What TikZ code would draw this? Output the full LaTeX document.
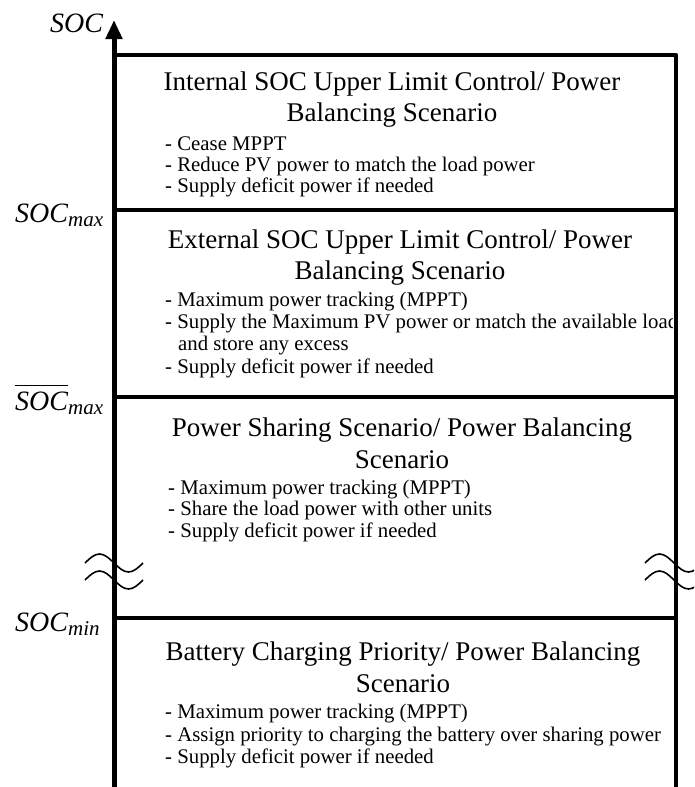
\documentclass[tikz,border=0pt]{standalone}
\usepackage{fontspec}
\setmainfont{Liberation Serif}
\usetikzlibrary{arrows.meta}
\begin{document}
\begin{tikzpicture}[x=1pt,y=-1pt,
  title/.style={anchor=base, inner sep=0pt, font=\fontsize{27}{27}\selectfont},
  item/.style={anchor=base west, inner sep=0pt, font=\fontsize{20.8}{20.8}\selectfont},
  level/.style={anchor=base west, inner sep=0pt, font=\fontsize{28}{28}\selectfont\itshape},
  frame/.style={line width=4.5pt},
  divider/.style={line width=3.6pt},
  wave/.style={line width=1.6pt}]
\useasboundingbox (0,0) rectangle (694,787);

% frame: top edge and right edge
\draw[frame, line join=round] (114,55) -- (676,55) -- (676,787);
% boundaries between the SOC bands
\draw[divider] (114,210) -- (676,210);
\draw[divider] (114,397) -- (676,397);
\draw[divider] (114,618) -- (676,618);
% SOC axis
\draw[line width=5pt, -{Triangle[length=19pt,width=16pt]}] (114,787) -- (114,20);

% axis breaks
\begin{scope}
\clip (0,0) rectangle (694,787);
\foreach \yy in {563,580} {
  \draw[wave] (85,\yy) sin (99.5,\yy-9) cos (114,\yy) sin (128.5,\yy+9) cos (143,\yy);
  \draw[wave] (645,\yy) sin (659.5,\yy-9) cos (674,\yy) sin (688.5,\yy+9) cos (703,\yy);
}
\end{scope}

% level labels
\node[level] (soc)    at (50,32)  {SOC};
\node[level] (socmax) at (15,222) {SOC\raisebox{-4pt}{\fontsize{21}{21}\selectfont max}};
\node[level] (socmaxbar) at (15,410) {$\overline{\mbox{\fontsize{28}{28}\selectfont\itshape SOC\rule{0pt}{23pt}}}$\raisebox{-4pt}{\fontsize{21}{21}\selectfont max}};
\node[level] (socmin) at (15,631) {SOC\raisebox{-4pt}{\fontsize{21}{21}\selectfont min}};

% band 1
\node[title] (t1a) at (392,90)  {Internal SOC Upper Limit Control/ Power};
\node[title] (t1b) at (392,121) {Balancing Scenario};
\node[item] (i1a) at (165,150) {- Cease MPPT};
\node[item] (i1b) at (165,171) {- Reduce PV power to match the load power};
\node[item] (i1c) at (165,192) {- Supply deficit power if needed};

% band 2
\node[title] (t2a) at (400,248) {External SOC Upper Limit Control/ Power};
\node[title] (t2b) at (400,279) {Balancing Scenario};
\node[item] (i2a) at (165,306) {- Maximum power tracking (MPPT)};
\begin{scope}
\clip (114,280) rectangle (672,340);
\node[item] (i2b) at (165,328) {- Supply the Maximum PV power or match the available load};
\end{scope}
\node[item] (i2c) at (178,350) {and store any excess};
\node[item] (i2d) at (165,373) {- Supply deficit power if needed};

% band 3
\node[title] (t3a) at (402,436) {Power Sharing Scenario/ Power Balancing};
\node[title] (t3b) at (402,468) {Scenario};
\node[item] (i3a) at (168,494) {- Maximum power tracking (MPPT)};
\node[item] (i3b) at (168,515) {- Share the load power with other units};
\node[item] (i3c) at (168,537) {- Supply deficit power if needed};

% band 4
\node[title] (t4a) at (403,660) {Battery Charging Priority/ Power Balancing};
\node[title] (t4b) at (403,692) {Scenario};
\node[item] (i4a) at (165,718) {- Maximum power tracking (MPPT)};
\node[item] (i4b) at (165,741) {- Assign priority to charging the battery over sharing power};
\node[item] (i4c) at (165,763) {- Supply deficit power if needed};
\end{tikzpicture}
\end{document}
